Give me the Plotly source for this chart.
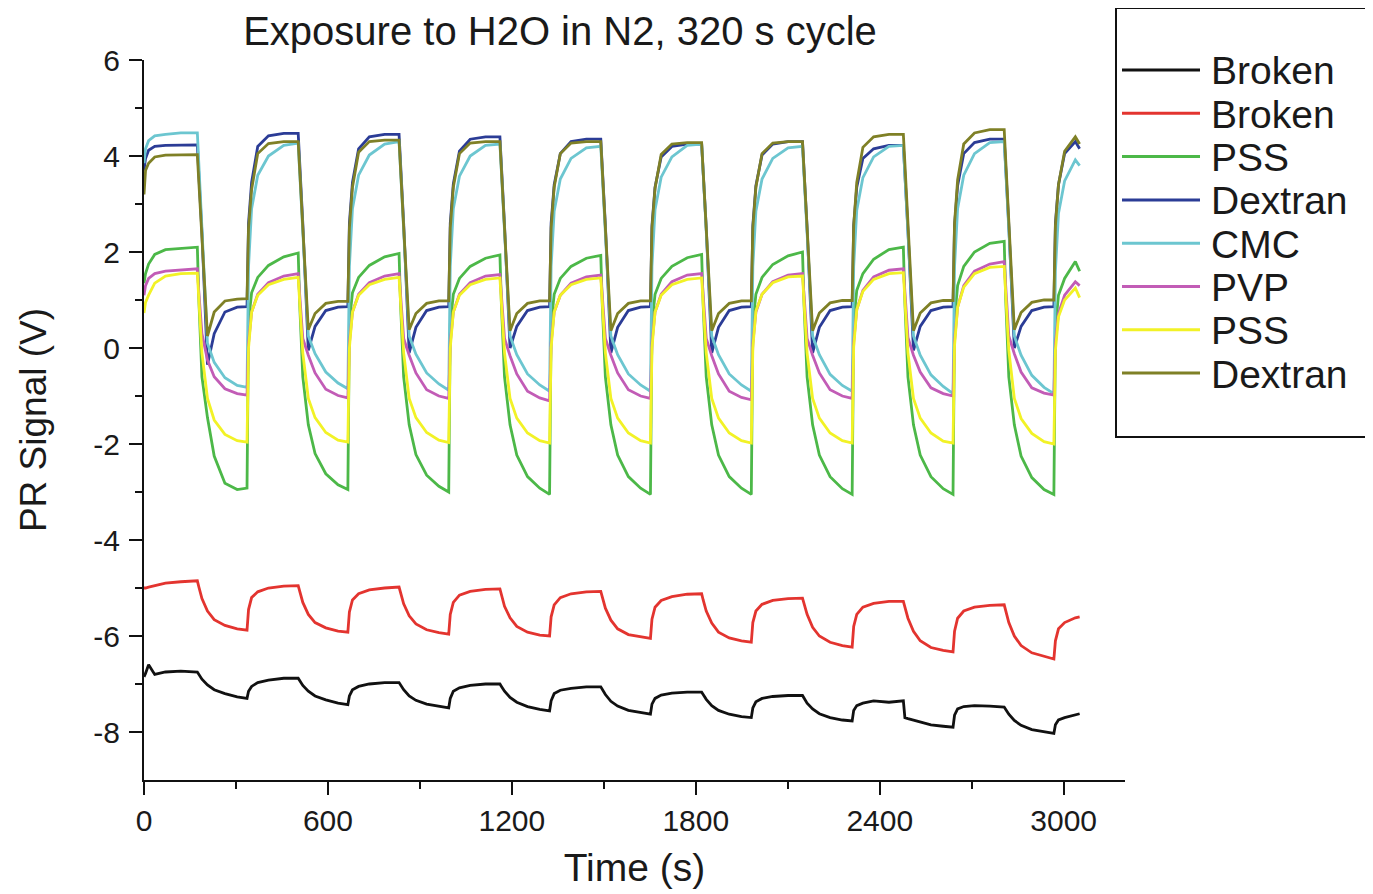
import plotly.graph_objects as go

# ---------------- data ----------------
time_s = [
    0, 5, 15, 35, 70, 120,
    174, 179, 189, 207, 229, 264, 304, 336, 341, 351, 371, 406, 456,
    503, 508, 518, 536, 558, 593, 633, 665, 670, 680, 700, 735, 785,
    832, 837, 847, 865, 887, 922, 962, 994, 999, 1009, 1029, 1064, 1114,
    1161, 1166, 1176, 1194, 1216, 1251, 1291, 1323, 1328, 1338, 1358, 1393, 1443,
    1490, 1495, 1505, 1523, 1545, 1580, 1620, 1652, 1657, 1667, 1687, 1722, 1772,
    1819, 1824, 1834, 1852, 1874, 1909, 1949, 1981, 1986, 1996, 2016, 2051, 2101,
    2148, 2153, 2163, 2181, 2203, 2238, 2278, 2310, 2315, 2325, 2345, 2380, 2430,
    2477, 2482, 2492, 2510, 2532, 2567, 2607, 2639, 2644, 2654, 2674, 2709, 2759,
    2806, 2811, 2821, 2839, 2861, 2896, 2936, 2968, 2973, 2983, 3003, 3038, 3052,
]

broken_1 = [
    -6.85, -6.78, -6.6, -6.8, -6.75, -6.73,
    -6.75, -6.8, -6.9, -7.02, -7.12, -7.2, -7.27, -7.3, -7.15, -7.05, -6.97, -6.92, -6.88,
    -6.88, -6.93, -7.03, -7.15, -7.25, -7.33, -7.4, -7.43, -7.25, -7.12, -7.05, -7.0, -6.97,
    -6.97, -7.02, -7.12, -7.25, -7.34, -7.42, -7.47, -7.5, -7.3, -7.15, -7.08, -7.03, -7.0,
    -7.0, -7.05, -7.15, -7.28, -7.38, -7.47, -7.53, -7.56, -7.35, -7.2, -7.13, -7.09, -7.06,
    -7.06, -7.12, -7.22, -7.36, -7.46, -7.55, -7.6, -7.63, -7.42, -7.3, -7.23, -7.19, -7.17,
    -7.17, -7.22, -7.32, -7.45, -7.55, -7.63, -7.68, -7.7, -7.5, -7.37, -7.3, -7.26, -7.24,
    -7.24, -7.3, -7.4, -7.52, -7.62, -7.7, -7.75, -7.77, -7.55, -7.45, -7.4, -7.35, -7.38,
    -7.35, -7.7, -7.72, -7.75, -7.8, -7.85, -7.88, -7.9, -7.65, -7.52, -7.47, -7.45, -7.46,
    -7.48, -7.53, -7.63, -7.76, -7.86, -7.95, -8.0, -8.03, -7.85, -7.75, -7.7, -7.65, -7.62,
]

broken_2 = [
    -5.0, -5.0, -4.98, -4.95, -4.9, -4.87,
    -4.85, -4.98, -5.22, -5.48, -5.66, -5.78, -5.85, -5.88, -5.45, -5.2, -5.08, -5.0, -4.96,
    -4.95, -5.08, -5.3, -5.55, -5.72, -5.83, -5.9, -5.92, -5.5, -5.25, -5.12, -5.04, -5.0,
    -4.98, -5.1, -5.33, -5.58, -5.75, -5.87, -5.93, -5.96, -5.55, -5.3, -5.15, -5.07, -5.03,
    -5.02, -5.15, -5.38, -5.62, -5.8, -5.92, -5.98, -6.0, -5.6, -5.35, -5.2, -5.12, -5.08,
    -5.07, -5.2, -5.42, -5.67, -5.85, -5.97, -6.02, -6.05, -5.65, -5.4, -5.26, -5.18, -5.13,
    -5.12, -5.25, -5.48, -5.73, -5.92, -6.04, -6.1, -6.13, -5.72, -5.48, -5.34, -5.26, -5.22,
    -5.21, -5.33, -5.55, -5.82, -6.0, -6.13, -6.2, -6.23, -5.8, -5.55, -5.4, -5.32, -5.28,
    -5.28, -5.4, -5.63, -5.9, -6.1, -6.24, -6.3, -6.33, -5.9, -5.63, -5.48, -5.4, -5.36,
    -5.35, -5.48, -5.72, -6.0, -6.2, -6.35, -6.43, -6.48, -6.1, -5.85, -5.72, -5.62, -5.6,
]

pss_1 = [
    1.35, 1.55, 1.75, 1.95, 2.05, 2.08,
    2.1, 1.0, -0.6, -1.45, -2.25, -2.82, -2.95, -2.92, 0.55, 1.15, 1.47, 1.72, 1.9,
    1.98, 0.9, -0.6, -1.6, -2.2, -2.62, -2.85, -2.95, 0.55, 1.15, 1.47, 1.72, 1.9,
    1.97, 0.9, -0.6, -1.6, -2.22, -2.65, -2.88, -3.0, 0.5, 1.12, 1.45, 1.7, 1.87,
    1.94, 0.88, -0.6, -1.6, -2.23, -2.68, -2.92, -3.05, 0.5, 1.12, 1.45, 1.7, 1.87,
    1.93, 0.88, -0.6, -1.6, -2.23, -2.68, -2.92, -3.05, 0.5, 1.12, 1.45, 1.7, 1.88,
    1.95, 0.9, -0.6, -1.6, -2.23, -2.68, -2.92, -3.05, 0.5, 1.12, 1.47, 1.74, 1.92,
    2.0, 0.92, -0.6, -1.6, -2.23, -2.68, -2.93, -3.05, 0.55, 1.2, 1.55, 1.85, 2.05,
    2.1, 0.95, -0.6, -1.6, -2.23, -2.68, -2.93, -3.05, 0.6, 1.3, 1.7, 2.0, 2.18,
    2.22, 1.0, -0.6, -1.6, -2.25, -2.7, -2.95, -3.05, 0.4, 1.1, 1.45, 1.8, 1.6,
]

dextran_1 = [
    3.7, 3.95, 4.12, 4.2, 4.22, 4.23,
    4.23, 3.6, 2.4, -0.35, 0.3, 0.75, 0.85, 0.86, 2.6, 3.45, 4.2, 4.42, 4.47,
    4.47, 3.85, 2.6, -0.05, 0.45, 0.78, 0.85, 0.86, 2.6, 3.45, 4.15, 4.4, 4.45,
    4.45, 3.85, 2.6, -0.1, 0.43, 0.78, 0.85, 0.86, 2.6, 3.42, 4.1, 4.35, 4.4,
    4.4, 3.8, 2.55, 0.0, 0.45, 0.78, 0.85, 0.86, 2.6, 3.4, 4.05, 4.3, 4.35,
    4.35, 3.75, 2.55, -0.1, 0.43, 0.78, 0.85, 0.86, 2.55, 3.35, 3.98, 4.2, 4.25,
    4.25, 3.65, 2.5, -0.1, 0.43, 0.78, 0.85, 0.86, 2.55, 3.38, 4.02, 4.25, 4.3,
    4.3, 3.7, 2.5, -0.1, 0.43, 0.78, 0.85, 0.86, 2.55, 3.35, 3.95, 4.15, 4.22,
    4.22, 3.65, 2.45, -0.05, 0.45, 0.78, 0.85, 0.86, 2.55, 3.38, 4.05, 4.28, 4.35,
    4.35, 3.75, 2.55, 0.0, 0.45, 0.78, 0.85, 0.86, 2.6, 3.4, 4.05, 4.3, 4.15,
]

cmc = [
    3.85, 4.15, 4.32, 4.42, 4.45, 4.48,
    4.48, 3.8, 2.5, 0.1, -0.3, -0.62, -0.78, -0.82, 1.7, 2.9, 3.6, 4.0, 4.22,
    4.27, 3.65, 2.45, 0.25, -0.12, -0.5, -0.73, -0.85, 1.7, 2.9, 3.6, 4.02, 4.25,
    4.3, 3.7, 2.45, 0.25, -0.13, -0.52, -0.75, -0.88, 1.7, 2.9, 3.58, 4.0, 4.22,
    4.25, 3.65, 2.45, 0.25, -0.14, -0.54, -0.77, -0.9, 1.7, 2.85, 3.52, 3.95, 4.17,
    4.2, 3.6, 2.4, 0.25, -0.14, -0.54, -0.77, -0.9, 1.7, 2.88, 3.56, 3.98, 4.22,
    4.25, 3.65, 2.45, 0.25, -0.14, -0.54, -0.77, -0.9, 1.7, 2.85, 3.52, 3.95, 4.17,
    4.2, 3.6, 2.4, 0.25, -0.14, -0.55, -0.78, -0.9, 1.7, 2.87, 3.55, 3.98, 4.2,
    4.22, 3.6, 2.4, 0.25, -0.15, -0.56, -0.8, -0.95, 1.7, 2.9, 3.6, 4.05, 4.28,
    4.3, 3.7, 2.45, 0.25, -0.15, -0.57, -0.82, -0.95, 1.6, 2.8, 3.48, 3.92, 3.8,
]

pvp = [
    1.1, 1.3, 1.45, 1.55, 1.6, 1.63,
    1.65, 1.15, 0.3, -0.25, -0.6, -0.85, -0.95, -0.98, 0.1, 0.75, 1.12, 1.36, 1.5,
    1.55, 1.1, 0.2, -0.15, -0.52, -0.86, -0.99, -1.04, 0.1, 0.75, 1.12, 1.36, 1.5,
    1.55, 1.1, 0.2, -0.15, -0.52, -0.87, -1.0, -1.05, 0.1, 0.75, 1.12, 1.36, 1.5,
    1.53, 1.1, 0.2, -0.16, -0.54, -0.9, -1.04, -1.1, 0.1, 0.75, 1.1, 1.35, 1.48,
    1.52, 1.1, 0.2, -0.15, -0.52, -0.87, -1.0, -1.05, 0.1, 0.75, 1.12, 1.38, 1.52,
    1.55, 1.1, 0.2, -0.16, -0.54, -0.9, -1.03, -1.08, 0.1, 0.75, 1.12, 1.38, 1.52,
    1.55, 1.1, 0.2, -0.15, -0.52, -0.87, -1.0, -1.05, 0.12, 0.8, 1.2, 1.48, 1.62,
    1.65, 1.15, 0.22, -0.15, -0.5, -0.83, -0.95, -1.0, 0.15, 0.85, 1.3, 1.6, 1.75,
    1.8, 1.25, 0.25, -0.12, -0.5, -0.83, -0.94, -0.98, 0.1, 0.72, 1.1, 1.38, 1.3,
]

pss_2 = [
    0.73, 0.95, 1.1, 1.35, 1.5, 1.55,
    1.56, 1.0, -0.1, -1.05, -1.5, -1.8, -1.93, -1.96, 0.0, 0.75, 1.1, 1.32, 1.43,
    1.47, 0.95, -0.1, -1.05, -1.45, -1.76, -1.92, -1.96, 0.0, 0.75, 1.1, 1.32, 1.43,
    1.47, 0.95, -0.1, -1.05, -1.45, -1.76, -1.92, -1.97, 0.0, 0.75, 1.1, 1.32, 1.43,
    1.46, 0.95, -0.1, -1.05, -1.46, -1.77, -1.93, -1.98, 0.0, 0.75, 1.1, 1.32, 1.43,
    1.46, 0.95, -0.1, -1.05, -1.46, -1.77, -1.93, -1.98, 0.0, 0.75, 1.1, 1.32, 1.43,
    1.46, 0.95, -0.1, -1.05, -1.46, -1.77, -1.93, -1.98, 0.0, 0.77, 1.12, 1.36, 1.48,
    1.5, 0.97, -0.1, -1.05, -1.46, -1.77, -1.93, -1.98, 0.02, 0.8, 1.18, 1.43, 1.55,
    1.57, 1.0, -0.1, -1.05, -1.46, -1.77, -1.94, -1.98, 0.05, 0.85, 1.27, 1.55, 1.68,
    1.7, 1.1, -0.05, -1.05, -1.47, -1.78, -1.95, -2.0, -0.05, 0.65, 1.0, 1.25, 1.05,
]

dextran_2 = [
    3.2, 3.7, 3.85, 3.98, 4.02, 4.03,
    4.03, 3.45, 2.25, 0.25, 0.75, 0.98, 1.02, 1.03, 2.5, 3.3, 4.05, 4.26, 4.3,
    4.3, 3.7, 2.5, 0.38, 0.72, 0.93, 0.97, 0.97, 2.5, 3.35, 4.08, 4.3, 4.33,
    4.33, 3.72, 2.5, 0.38, 0.72, 0.93, 0.98, 0.98, 2.5, 3.35, 4.05, 4.27, 4.3,
    4.3, 3.7, 2.5, 0.36, 0.72, 0.93, 0.98, 0.98, 2.5, 3.35, 4.05, 4.27, 4.3,
    4.3, 3.7, 2.5, 0.36, 0.72, 0.93, 0.98, 0.98, 2.5, 3.33, 4.03, 4.25, 4.28,
    4.28, 3.68, 2.48, 0.36, 0.72, 0.93, 0.98, 0.98, 2.5, 3.35, 4.05, 4.27, 4.3,
    4.3, 3.7, 2.5, 0.36, 0.73, 0.94, 0.99, 0.99, 2.55, 3.45, 4.18, 4.4, 4.45,
    4.45, 3.85, 2.6, 0.36, 0.73, 0.94, 0.99, 0.99, 2.6, 3.5, 4.25, 4.48, 4.55,
    4.55, 3.9, 2.65, 0.38, 0.74, 0.95, 1.0, 1.0, 2.55, 3.4, 4.1, 4.4, 4.25,
]

series_names = ["Broken", "Broken", "PSS", "Dextran", "CMC", "PVP", "PSS", "Dextran"]
series_values = [broken_1, broken_2, pss_1, dextran_1, cmc, pvp, pss_2, dextran_2]
series_colors = ["#111111", "#e3342f", "#4cb848", "#2b3c96", "#6cc6d0",
                 "#c25cb6", "#f2f226", "#7f8026"]

x_tick_vals = [0, 600, 1200, 1800, 2400, 3000]
x_tick_text = ["0", "600", "1200", "1800", "2400", "3000"]
x_minor_vals = [300, 900, 1500, 2100, 2700]
y_tick_vals = [-8, -6, -4, -2, 0, 2, 4, 6]
y_tick_text = ["-8", "-6", "-4", "-2", "0", "2", "4", "6"]
y_minor_vals = [-7, -5, -3, -1, 1, 3, 5]

# ---------------- figure ----------------
# the page body has an 8 px default margin, so the figure is laid out 8 px
# smaller and every screen position below is given in screen pixels - OFF
OFF = 8
W, H = 1373 - OFF, 894 - OFF
ML, MR, MT, MB = 144 - OFF, 248, 60 - OFF, 114
PW, PH = W - ML - MR, H - MT - MB
FONT = "Arial, Liberation Sans, sans-serif"
TXT = "#1a1a1a"


def px_x(p):
    return (p - OFF - ML) / PW


def px_y(p):
    return (H - MB - (p - OFF)) / PH


fig = go.Figure()
for name, vals, col in zip(series_names, series_values, series_colors):
    fig.add_trace(go.Scatter(x=time_s, y=vals, mode="lines", name=name,
                             line=dict(color=col, width=2.8), showlegend=False))

# legend drawn as a framed box of line samples, as in the reference
shapes = [dict(type="rect", xref="paper", yref="paper",
               x0=px_x(1116), x1=px_x(1420), y0=px_y(437), y1=px_y(8),
               line=dict(color="#111111", width=2), fillcolor="rgba(0,0,0,0)")]
annotations = []
for i, (name, col) in enumerate(zip(series_names, series_colors)):
    yc = 70 + i * 43.3
    shapes.append(dict(type="line", xref="paper", yref="paper",
                       x0=px_x(1122), x1=px_x(1200), y0=px_y(yc), y1=px_y(yc),
                       line=dict(color=col, width=3)))
    annotations.append(dict(xref="paper", yref="paper", x=px_x(1209), y=px_y(yc + 1),
                            text=name, showarrow=False, xanchor="left", yanchor="middle",
                            font=dict(family=FONT, size=39, color=TXT)))

axis_common = dict(showline=True, linecolor="#111111", linewidth=2, ticks="outside",
                   ticklen=13, tickwidth=2, tickcolor="#111111", showgrid=False,
                   zeroline=False, mirror=False,
                   tickfont=dict(family=FONT, size=30, color=TXT))

fig.update_layout(
    width=W, height=H,
    margin=dict(l=ML, r=MR, t=MT, b=MB, autoexpand=False),
    paper_bgcolor="white", plot_bgcolor="white",
    title=dict(text="Exposure to H2O in N2, 320 s cycle", x=(560 - OFF) / W, xref="container",
               xanchor="center", y=1 - (31 - OFF) / H, yref="container", yanchor="middle",
               font=dict(family=FONT, size=40, color=TXT)),
    xaxis=dict(range=[0, 3200], tickmode="array", tickvals=x_tick_vals, ticktext=x_tick_text,
               minor=dict(tickmode="array", tickvals=x_minor_vals, ticklen=7, tickwidth=2,
                          tickcolor="#111111", ticks="outside"),
               ticklabelstandoff=0,
               title=dict(text="Time (s)", standoff=18,
                          font=dict(family=FONT, size=39, color=TXT)),
               **axis_common),
    yaxis=dict(range=[-9, 6], tickmode="array", tickvals=y_tick_vals, ticktext=y_tick_text,
               minor=dict(tickmode="array", tickvals=y_minor_vals, ticklen=7, tickwidth=2,
                          tickcolor="#111111", ticks="outside"),
               ticklabelstandoff=3,
               title=dict(text="PR Signal (V)", standoff=35,
                          font=dict(family=FONT, size=37, color=TXT)),
               **axis_common),
    shapes=shapes,
    annotations=annotations,
)

fig.write_html("out.html")
